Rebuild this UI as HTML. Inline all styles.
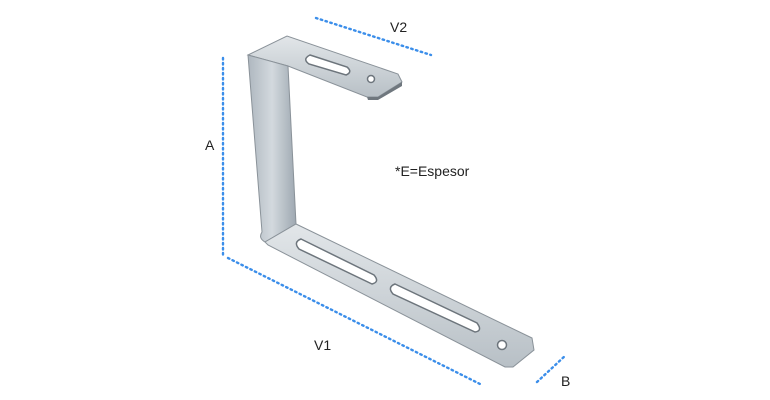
<!DOCTYPE html>
<html><head><style>
html,body{margin:0;padding:0;background:#fff;width:770px;height:400px;overflow:hidden}
text{font-family:"Liberation Sans",sans-serif;font-size:14px;fill:#222}
</style></head><body>
<svg width="770" height="400" viewBox="0 0 770 400" xmlns="http://www.w3.org/2000/svg">
<defs>
<linearGradient id="m" x1="0" y1="0" x2="1" y2="0">
<stop offset="0" stop-color="#aeb7bf"/><stop offset="0.5" stop-color="#d3d9de"/><stop offset="1" stop-color="#9ea8b1"/></linearGradient>
<linearGradient id="t" x1="0" y1="0" x2="0" y2="1">
<stop offset="0" stop-color="#e2e6e9"/><stop offset="1" stop-color="#b8c0c6"/></linearGradient>
</defs>
<g fill="none" stroke="#3b8eea" stroke-width="2.4" stroke-dasharray="1.5 3.5" stroke-linecap="round">
<line x1="223" y1="58" x2="223" y2="255"/>
<line x1="228" y1="258" x2="482" y2="385"/>
<line x1="316" y1="18" x2="431" y2="55"/>
<line x1="537" y1="382" x2="566" y2="355"/>
</g>
<path d="M248,55 L287,36 L398,74 L402,82 L378,97 L367,97 L288,66 Z" fill="url(#t)" stroke="#8a9299" stroke-width="1"/>
<path d="M367,97 L378,97 L402,82 L402,86 L378,100 L368,100 Z" fill="#6f777e"/>
<path d="M248,55 L288,66 L296,224 L265,242 Q258,238 262,232 Z" fill="url(#m)" stroke="#8a9299" stroke-width="1"/>
<path d="M296,224 L532,338 L534,350 L513,367 L505,367 L268,245 L265,242 Z" fill="url(#t)" stroke="#8a9299" stroke-width="1"/>
<g fill="#fff" stroke="#6d757c" stroke-width="1.5">
<path d="M310,55 L347,67 Q353,72 346,75 L309,64 Q302,59 310,55 Z"/>
<circle cx="371" cy="79" r="3.5"/>
<path d="M301,239 L374,275 Q380,282 372,284 L299,249 Q293,242 301,239 Z"/>
<path d="M395,284 L477,323 Q483,331 475,332 L393,294 Q387,287 395,284 Z"/>
<circle cx="502" cy="345" r="4.5"/>
</g>
<text x="205" y="150">A</text>
<text x="390" y="32">V2</text>
<text x="395" y="176">*E=Espesor</text>
<text x="314" y="350">V1</text>
<text x="561" y="386">B</text>
</svg>
</body></html>
